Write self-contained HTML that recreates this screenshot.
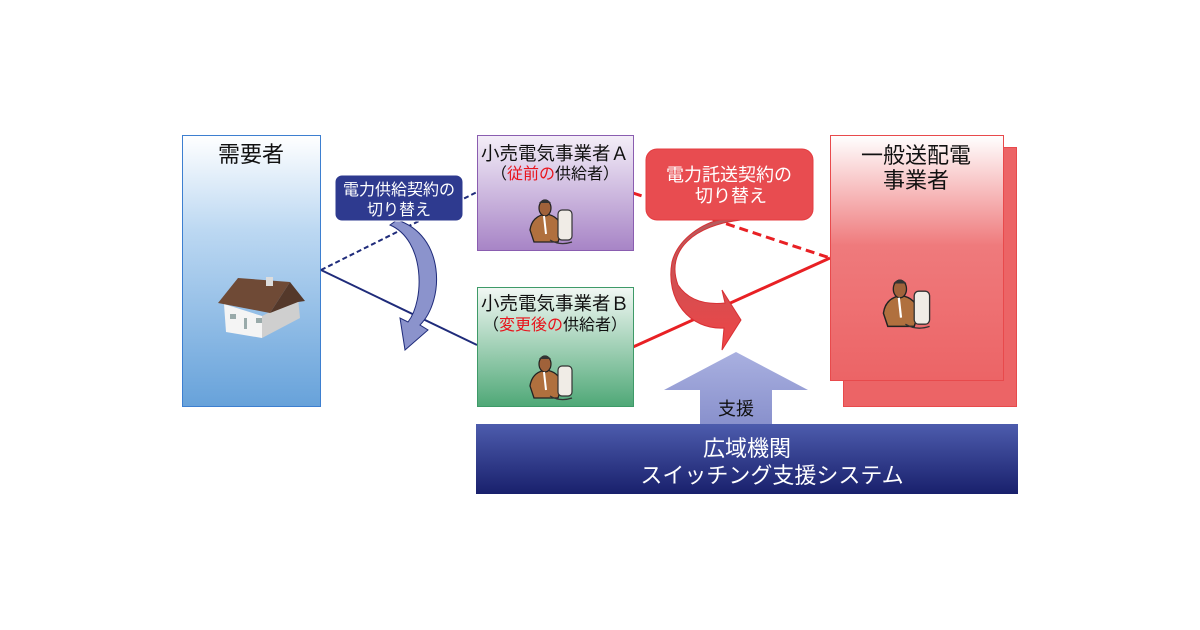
<!DOCTYPE html>
<html><head><meta charset="utf-8">
<style>
html,body{margin:0;padding:0;background:#fff;width:1200px;height:630px;overflow:hidden}
svg{display:block}
text{font-family:"Liberation Sans","Noto Sans CJK JP",sans-serif}
</style></head><body>
<svg width="1200" height="630" viewBox="0 0 1200 630" xmlns="http://www.w3.org/2000/svg">
<defs>
<linearGradient id="gBlue" x1="0" y1="0" x2="0" y2="1"><stop offset="0" stop-color="#ffffff"/><stop offset="0.35" stop-color="#bcd8f2"/><stop offset="1" stop-color="#67a2da"/></linearGradient>
<linearGradient id="gPur" x1="0" y1="0" x2="0" y2="1"><stop offset="0" stop-color="#f4eef8"/><stop offset="1" stop-color="#a784c6"/></linearGradient>
<linearGradient id="gGrn" x1="0" y1="0" x2="0" y2="1"><stop offset="0" stop-color="#f2f8f4"/><stop offset="1" stop-color="#4fa877"/></linearGradient>
<linearGradient id="gRed" x1="0" y1="0" x2="0" y2="1"><stop offset="0" stop-color="#ffffff"/><stop offset="0.45" stop-color="#ef7a7c"/><stop offset="1" stop-color="#ec6466"/></linearGradient>
<linearGradient id="gBar" x1="0" y1="0" x2="0" y2="1"><stop offset="0" stop-color="#4d5cad"/><stop offset="1" stop-color="#19206c"/></linearGradient>
<linearGradient id="gUp" x1="0" y1="0" x2="0" y2="1"><stop offset="0" stop-color="#a9b0e0"/><stop offset="1" stop-color="#8890cc"/></linearGradient>
<linearGradient id="gRC" x1="0" y1="0" x2="0" y2="1"><stop offset="0" stop-color="#b75a5c"/><stop offset="1" stop-color="#f04446"/></linearGradient>
<g id="man">
<path d="M-18,2 q2,-14 16,-16 q14,2 16,16 l-4,12 h-24 z" fill="#b0703e" stroke="#222" stroke-width="1.3"/>
<ellipse cx="-3" cy="-20" rx="6" ry="8" fill="#a0623a" stroke="#222" stroke-width="1.2"/>
<path d="M-9,-25 q6,-7 12,0" fill="#333"/>
<path d="M-4,-12 l2,18" stroke="#fff" stroke-width="2"/>
<rect x="10" y="-18" width="14" height="30" rx="4" fill="#f0ece6" stroke="#333" stroke-width="1.2"/>
<path d="M2,12 q10,6 22,2" fill="none" stroke="#333" stroke-width="1.2"/>
</g>
</defs>

<rect x="182.5" y="135.5" width="138" height="271" fill="url(#gBlue)" stroke="#3d7fd0"/>
<text x="251" y="162" font-size="22" text-anchor="middle" fill="#111">需要者</text>
<polygon points="224,304 262,316 262,338 226,332" fill="#f4f4f4"/>
<polygon points="262,316 298,298 300,318 262,338" fill="#cfcfcf"/>
<polygon points="218,303 238,278 290,282 270,313" fill="#6f4a36"/>
<polygon points="290,282 305,301 298,302 270,313" fill="#54382a"/>
<rect x="266" y="277" width="7" height="9" fill="#ddd"/>
<rect x="230" y="314" width="6" height="5" fill="#9aa"/><rect x="244" y="318" width="3" height="11" fill="#9aa"/><rect x="256" y="318" width="6" height="5" fill="#9aa"/>

<line x1="321" y1="270" x2="477" y2="192" stroke="#1f2b7a" stroke-width="2" stroke-dasharray="5,3"/>
<line x1="321" y1="270" x2="477" y2="345" stroke="#1f2b7a" stroke-width="2"/>
<line x1="633" y1="193" x2="830" y2="258" stroke="#e82024" stroke-width="3" stroke-dasharray="9,5"/>
<line x1="633" y1="347" x2="830" y2="258" stroke="#e82024" stroke-width="3"/>

<rect x="477.5" y="135.5" width="156" height="115" fill="url(#gPur)" stroke="#8a5db0"/>
<text x="555" y="160" font-size="18.5" text-anchor="middle" fill="#111">小売電気事業者Ａ</text>
<text x="555" y="179" font-size="16" text-anchor="middle" fill="#111">（<tspan fill="#e8141c">従前の</tspan>供給者）</text>
<use href="#man" x="548" y="228"/>
<rect x="477.5" y="287.5" width="156" height="119" fill="url(#gGrn)" stroke="#3e9a68"/>
<text x="555" y="310" font-size="18.5" text-anchor="middle" fill="#111">小売電気事業者Ｂ</text>
<text x="555" y="330" font-size="16" text-anchor="middle" fill="#111">（<tspan fill="#e8141c">変更後の</tspan>供給者）</text>
<use href="#man" x="548" y="384"/>

<rect x="843.5" y="147.5" width="173" height="259" fill="#ec6466" stroke="#e84a4c"/>
<rect x="830.5" y="135.5" width="173" height="245" fill="url(#gRed)" stroke="#e84a4c"/>
<text x="916" y="163" font-size="22" text-anchor="middle" fill="#111">一般送配電</text>
<text x="916" y="188" font-size="22" text-anchor="middle" fill="#111">事業者</text>
<use href="#man" x="912" y="310" transform="translate(-100 -30) scale(1.1)" />

<path d="M397,220 C445,235 445,300 420,325 L428,330 L405,350 L400,318 L408,322 C425,300 425,240 390,225 Z" fill="#8b93cc" stroke="#1f2b7a" stroke-width="1"/>
<rect x="335" y="175" width="128" height="46" rx="7" fill="#2e3a8f" stroke="#fff"/>
<text x="399" y="195" font-size="16" text-anchor="middle" fill="#fff">電力供給契約の</text>
<text x="399" y="215" font-size="16" text-anchor="middle" fill="#fff">切り替え</text>

<path d="M741,220 C695,225 665,250 678,285 C688,300 705,305 725,303 L722,290 L741,320 L722,350 L724,328 C690,330 665,300 672,262 C678,238 705,222 720,220 Z" fill="url(#gRC)" stroke="#d83034" stroke-width="1"/>
<rect x="646" y="149" width="167" height="71" rx="11" fill="#e84c50" stroke="#e43c40"/>
<text x="729" y="181" font-size="18" text-anchor="middle" fill="#fff">電力託送契約の</text>
<text x="731" y="202" font-size="18" text-anchor="middle" fill="#fff">切り替え</text>

<polygon points="736,352 808,390 772,390 772,426 700,426 700,390 664,390" fill="url(#gUp)"/>
<text x="736" y="415" font-size="18" text-anchor="middle" fill="#111">支援</text>

<rect x="476" y="424" width="542" height="70" fill="url(#gBar)"/>
<text x="747" y="456" font-size="22" text-anchor="middle" fill="#fff">広域機関</text>
<text x="772" y="483" font-size="22" text-anchor="middle" fill="#fff">スイッチング支援システム</text>
</svg>
</body></html>
